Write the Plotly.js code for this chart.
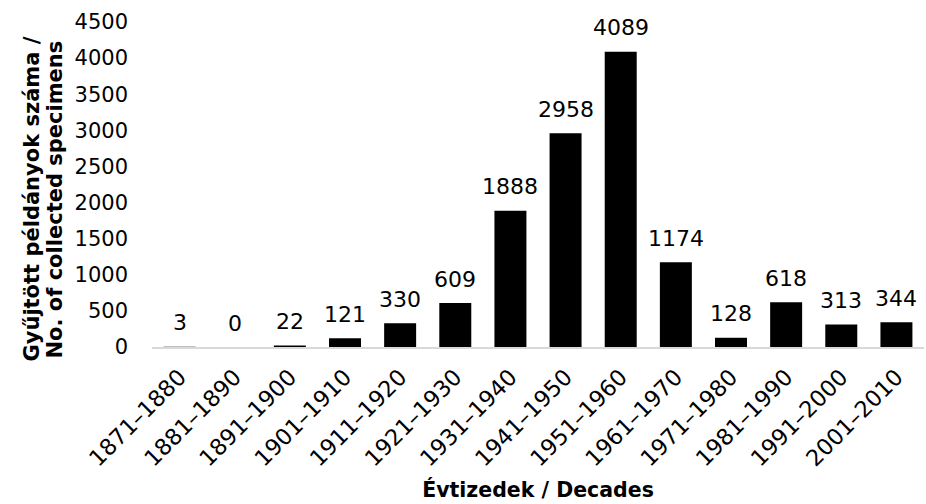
<!DOCTYPE html>
<html><head><meta charset="utf-8">
<script src="https://cdn.plot.ly/plotly-3.0.1.min.js"></script>
<style>body{margin:0;background:#fff}#c{width:926px;height:504px}</style>
</head><body><div id="c"></div>
<script>
const decades = ["1871–1880","1881–1890","1891–1900","1901–1910","1911–1920","1921–1930","1931–1940","1941–1950","1951–1960","1961–1970","1971–1980","1981–1990","1991–2000","2001–2010"];
const specimens = [3,0,22,121,330,609,1888,2958,4089,1174,128,618,313,344];
const yTicks = [0,500,1000,1500,2000,2500,3000,3500,4000,4500];
const yTitleLines = ["Gyűjtött példányok száma /", "No. of collected specimens"];
const xTitle = "Évtizedek / Decades";

const FONT = 'DejaVu Sans, Verdana, sans-serif';
const trace = {
  type: 'bar', x: decades, y: specimens,
  marker: {color: '#000000'},
  hoverinfo: 'none'
};
const labels = decades.map((d, i) => ({
  x: d, y: specimens[i], text: String(specimens[i]),
  xref: 'x', yref: 'y', showarrow: false, yanchor: 'middle', yshift: 24,
  font: {family: FONT, size: 22, color: '#000'}
}));
const titleAnns = yTitleLines.map((t, i) => ({
  text: '<b>' + t + '</b>', xref: 'paper', yref: 'paper', x: 0, y: 0.5,
  xanchor: 'center', yanchor: 'middle', xshift: -121 + i * 23, yshift: -15,
  textangle: -90, showarrow: false,
  font: {family: FONT, size: 21, color: '#000'}
}));
const layout = {
  width: 926, height: 504,
  margin: {l: 152, r: 2, t: 22, b: 157},
  paper_bgcolor: '#fff', plot_bgcolor: '#fff',
  bargap: 0.42,
  showlegend: false,
  font: {family: FONT, size: 21, color: '#000'},
  annotations: labels.concat(titleAnns),
  xaxis: {
    tickangle: -45, showline: true, linecolor: '#d9d9d9', linewidth: 2,
    ticks: '', showgrid: false, tickfont: {size: 22.5}, ticklabelstandoff: 6,
    title: {text: '<b>' + xTitle + '</b>', font: {size: 20.5}, standoff: 12}
  },
  yaxis: {
    range: [0, 4500], tickvals: yTicks, showgrid: false, zeroline: false,
    showline: false, ticks: '', tickfont: {size: 21}, ticklabelstandoff: 23
  }
};
Plotly.newPlot('c', [trace], layout, {staticPlot: true, displayModeBar: false});
</script></body></html>
